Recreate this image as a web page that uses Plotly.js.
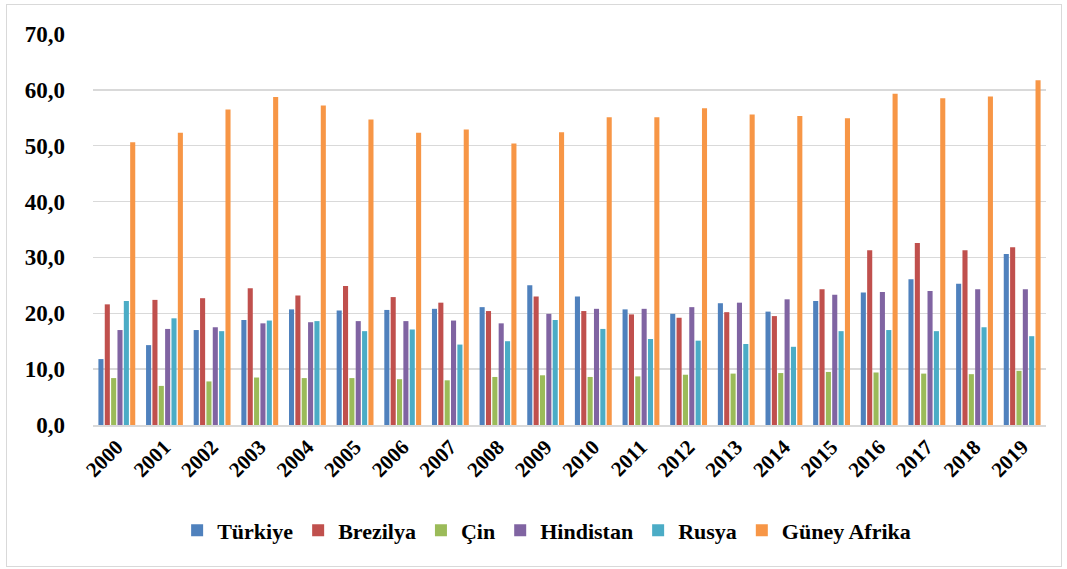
<!DOCTYPE html>
<html>
<head>
<meta charset="utf-8">
<script src="https://cdn.plot.ly/plotly-3.0.1.min.js"></script>
<style>
html,body{margin:0;padding:0;background:#fff;}
#wrap{position:absolute;left:6px;top:4px;width:1054px;height:561px;border:1px solid #d9d9d9;}
#chart{position:absolute;left:0;top:0;width:1067px;height:569px;}
</style>
</head>
<body>
<div id="wrap"></div>
<div id="chart"></div>
<script>
const years = ["2000","2001","2002","2003","2004","2005","2006","2007","2008","2009","2010","2011","2012","2013","2014","2015","2016","2017","2018","2019"];
const turkiye    = [11.8,14.3,17.0,18.8,20.7,20.5,20.6,20.8,21.1,25.0,23.0,20.7,19.9,21.8,20.3,22.2,23.7,26.1,25.3,30.6];
const brezilya   = [21.6,22.4,22.7,24.5,23.2,24.9,22.9,21.9,20.4,23.0,20.4,19.8,19.2,20.2,19.5,24.3,31.3,32.6,31.3,31.8];
const cin        = [8.4,7.0,7.8,8.5,8.4,8.4,8.2,8.0,8.6,8.9,8.6,8.7,9.0,9.2,9.3,9.5,9.4,9.2,9.1,9.7];
const hindistan  = [17.0,17.2,17.5,18.2,18.4,18.6,18.6,18.7,18.2,19.9,20.8,20.8,21.1,21.9,22.5,23.3,23.8,24.0,24.3,24.3];
const rusya      = [22.2,19.1,16.8,18.7,18.6,16.8,17.1,14.4,15.0,18.8,17.2,15.4,15.1,14.5,14.0,16.8,17.0,16.8,17.5,15.9];
const guneyAfrika= [50.6,52.3,56.5,58.7,57.2,54.7,52.3,52.9,50.4,52.4,55.1,55.1,56.7,55.6,55.3,54.9,59.3,58.5,58.8,61.7];

const seriesNames = ["Türkiye","Brezilya","Çin","Hindistan","Rusya","Güney Afrika"];
const seriesData = [turkiye, brezilya, cin, hindistan, rusya, guneyAfrika];
const colors = ["#4F81BD","#C0504D","#9BBB59","#8064A2","#4BACC6","#F79646"];

const traces = seriesNames.map((n,i)=>({
  type:'bar', name:'<b>'+n+'</b>', x:years, y:seriesData[i],
  marker:{color:colors[i], line:{width:0}}
}));

const fam = 'Liberation Serif, Times New Roman, serif';
const yTickVals = [0,10,20,30,40,50,60,70];

const layout = {
  width:1067, height:569,
  margin:{l:93, r:21, t:34, b:144},
  paper_bgcolor:'rgba(0,0,0,0)', plot_bgcolor:'rgba(0,0,0,0)',
  separators:',.',
  barmode:'group', bargap:0.2, bargroupgap:0.2,
  font:{family:fam, size:19, color:'#000'},
  showlegend:true,
  legend:{orientation:'h', x:0.476, xanchor:'center', y:-0.27, yanchor:'middle',
          font:{family:fam, size:22, color:'#000'}, itemwidth:30, traceorder:'normal'},
  xaxis:{type:'category', tickangle:-45, showgrid:false, showline:true, linecolor:'#d9d9d9', linewidth:1.5,
         ticks:'', tickvals:years, ticktext:years.map(y=>'<b>'+y+'</b>'),
         tickfont:{family:fam, size:21, color:'#000'}},
  yaxis:{range:[0,70], tickvals:yTickVals, ticktext:yTickVals.map(v=>'<b>'+v.toFixed(1).replace('.',',')+'</b>'),
         showgrid:true, gridcolor:'#d9d9d9', gridwidth:1.5,
         zeroline:false, showline:false, ticks:'', ticklabelstandoff:27,
         tickfont:{family:fam, size:23, color:'#000'}}
};

Plotly.newPlot('chart', traces, layout, {displayModeBar:false, staticPlot:true});
</script>
</body>
</html>
